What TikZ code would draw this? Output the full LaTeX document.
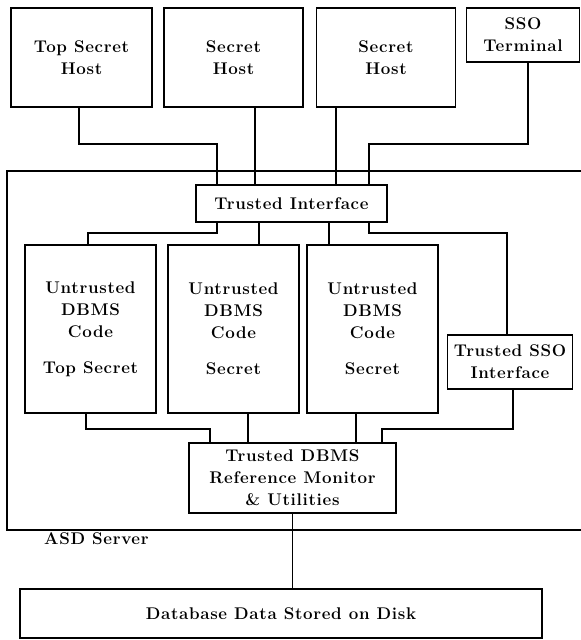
\documentclass[tikz,border=0pt]{standalone}
\usepackage{fontspec}
\setmainfont{Latin Modern Roman}
\newfontfamily\labelfont[LetterSpace=4]{Latin Modern Roman}
\tikzset{
  unit/.style={draw=black,rectangle,line width=1.2bp,inner sep=0pt,align=center,
    font=\labelfont\fontsize{17}{22}\selectfont\bfseries},
  wire/.style={line width=1.1bp},
}
\begin{document}
\begin{tikzpicture}[line join=miter]
\useasboundingbox (0bp,0bp) rectangle (581bp,-640bp);
%%
\node (tshost) at (81.5bp,-57.5bp) [unit,minimum width=141bp,minimum height=99bp] {Top Secret\\Host};
  \node (shost1) at (233.5bp,-57.5bp) [unit,minimum width=139bp,minimum height=99bp] {Secret\\Host};
  \node (shost2) at (386bp,-57.5bp) [unit,minimum width=139bp,minimum height=99bp] {Secret\\Host};
  \node (ssoterm) at (523bp,-35bp) [unit,minimum width=113bp,minimum height=54bp] {SSO\\Terminal};
  \node (tinterface) at (291.5bp,-203.5bp) [unit,minimum width=191bp,minimum height=37bp] {Trusted Interface};
  \node (ucode1) at (90.5bp,-329bp) [unit,minimum width=131bp,minimum height=168bp] {Untrusted\\DBMS\\Code\\[14bp]Top Secret};
  \node (ucode2) at (233.5bp,-329bp) [unit,minimum width=131bp,minimum height=168bp] {Untrusted\\DBMS\\Code\\[14bp]Secret};
  \node (ucode3) at (372.5bp,-329bp) [unit,minimum width=131bp,minimum height=168bp] {Untrusted\\DBMS\\Code\\[14bp]Secret};
  \node (tsso) at (510bp,-362bp) [unit,minimum width=125bp,minimum height=54bp] {Trusted SSO\\Interface};
  \node (tdbms) at (292.5bp,-478bp) [unit,minimum width=207bp,minimum height=70bp] {Trusted DBMS\\Reference Monitor\\\& Utilities};
  \node (dbdisk) at (281bp,-613.5bp) [unit,minimum width=522bp,minimum height=49bp] {Database Data Stored on Disk};
  % server frame, cut off at the right edge
  \draw [line width=1.2bp] (582bp,-171bp) -- (7bp,-171bp) -- (7bp,-530bp) -- (582bp,-530bp);
  \node (asdlabel) at (44bp,-539bp) [anchor=west,inner sep=0pt,font=\labelfont\fontsize{17}{22}\selectfont\bfseries] {ASD Server};
  \coordinate (bend_ts) at (217bp,-144bp);
  \coordinate (bend_sso) at (369bp,-144bp);
  \coordinate (bend_u1) at (217bp,-233bp);
  \coordinate (bend_u2) at (259bp,-233bp);
  \coordinate (bend_u3) at (329bp,-233bp);
  \coordinate (bend_tsso) at (369bp,-233bp);
  \coordinate (bend_m1) at (210bp,-429bp);
  \coordinate (bend_m2) at (248bp,-429bp);
  \coordinate (bend_m3) at (356bp,-429bp);
  \coordinate (bend_m4) at (382bp,-429bp);
  \draw [wire] ([xshift=-2.5bp]tshost.south) |- (bend_ts) -- (bend_ts |- tinterface.north);
  \draw [wire] (shost1.south -| 255bp,0) -- (tinterface.north -| 255bp,0);
  \draw [wire] (shost2.south -| 336bp,0) -- (tinterface.north -| 336bp,0);
  \draw [wire] ([xshift=5bp]ssoterm.south) |- (bend_sso) -- (bend_sso |- tinterface.north);
  \draw [wire] (bend_u1 |- tinterface.south) -- (bend_u1) -| ([xshift=-2.5bp]ucode1.north);
  \draw [wire] (bend_u2 |- tinterface.south) -- (bend_u2 |- ucode2.north);
  \draw [wire] (bend_u3 |- tinterface.south) -- (bend_u3 |- ucode3.north);
  \draw [wire] (bend_tsso |- tinterface.south) -- (bend_tsso) -| ([xshift=-3bp]tsso.north);
  \draw [wire] ([xshift=-4.5bp]ucode1.south) |- (bend_m1) -- (bend_m1 |- tdbms.north);
  \draw [wire] (bend_m2 |- ucode2.south) -- (bend_m2 |- tdbms.north);
  \draw [wire] (bend_m3 |- ucode3.south) -- (bend_m3 |- tdbms.north);
  \draw [wire] ([xshift=3bp]tsso.south) |- (bend_m4) -- (bend_m4 |- tdbms.north);
  \draw [wire] (tdbms.south) -- (tdbms.south |- dbdisk.north);
%
\end{tikzpicture}
\end{document}
